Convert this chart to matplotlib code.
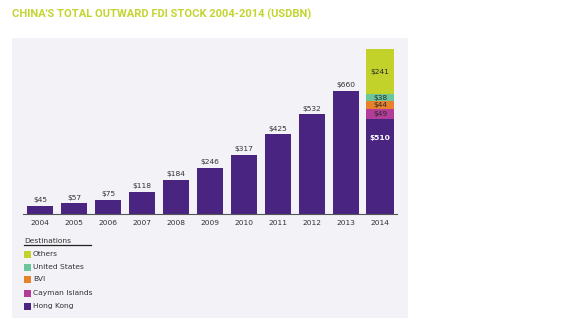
import matplotlib
matplotlib.use("Agg")
import matplotlib.pyplot as plt
from matplotlib.patches import Rectangle
from matplotlib.lines import Line2D

years = ["2004", "2005", "2006", "2007", "2008", "2009", "2010", "2011", "2012", "2013", "2014"]
totals = [45, 57, 75, 118, 184, 246, 317, 425, 532, 660]

# 2014 breakdown by destination (bottom to top)
dest_names = ["Hong Kong", "Cayman Islands", "BVI", "United States", "Others"]
dest_values = [510, 49, 44, 38, 241]
dest_colors = ["#4a2481", "#b23d98", "#e8812b", "#6cc59b", "#c3d22b"]
dest_text = ["white", "#2a2a2a", "#2a2a2a", "#2a2a2a", "#2a2a2a"]

title = "CHINA'S TOTAL OUTWARD FDI STOCK 2004-2014 (USDBN)"
title_color = "#c4d42f"
panel_color = "#f3f2f7"
bar_color = dest_colors[0]

W, H = 568, 326
fig = plt.figure(figsize=(W / 100, H / 100), dpi=100)
fig.patch.set_facecolor("white")

def fx(px):
    return px / W

def fy(py):
    return 1 - py / H

# background panel
fig.add_artist(Rectangle((fx(12), fy(318)), fx(408) - fx(12), fy(38) - fy(318),
                         transform=fig.transFigure, facecolor=panel_color,
                         edgecolor="none", zorder=0))

fig.text(fx(12), fy(14), title, color=title_color, fontsize=8.0,
         fontweight="bold", family=["Roboto", "DejaVu Sans"],
         ha="left", va="center")

ax = fig.add_axes([fx(23), fy(214), fx(397) - fx(23), fy(40) - fy(214)])
ax.set_facecolor("none")
ax.set_xlim(-0.5, len(years) - 0.5)
ax.set_ylim(0, 930)

label_kw = dict(fontsize=5.4, color="#333333", ha="center")

xs = list(range(len(totals)))
ax.bar(xs, totals, width=0.74, color=bar_color, zorder=2)
for x, v in zip(xs, totals):
    ax.text(x, v + 14, f"${v}", va="bottom", **label_kw)

# stacked 2014 bar
x14 = len(years) - 1
bottom = 0
for i, (v, c, tc) in enumerate(zip(dest_values, dest_colors, dest_text)):
    ax.bar(x14, v, bottom=bottom, width=0.85, color=c, zorder=2)
    ypos = bottom + (0.8 * v if i == 0 else v / 2)
    ax.text(x14, ypos, f"${v}", va="center", fontsize=5.4, color=tc,
            ha="center", fontweight="bold" if i == 0 else "normal")
    bottom += v

ax.set_xticks(range(len(years)))
ax.set_xticklabels(years, fontsize=5.4, color="#333333")
ax.tick_params(axis="x", length=0, pad=4)
ax.set_yticks([])
for s in ["top", "right", "left"]:
    ax.spines[s].set_visible(False)
ax.spines["bottom"].set_color("#555555")
ax.spines["bottom"].set_linewidth(0.8)

# legend
fig.text(fx(24), fy(241), "Destinations", fontsize=5.4, color="#333333",
         ha="left", va="center")
fig.add_artist(Line2D([fx(24), fx(91)], [fy(245), fy(245)],
                      transform=fig.transFigure, color="#222222", lw=0.9))
leg_y = [306, 293, 279, 267, 254]
for name, c, y in zip(dest_names, dest_colors, leg_y):
    fig.add_artist(Rectangle((fx(24), fy(y + 3.5)), fx(7), fy(0) - fy(7),
                             transform=fig.transFigure, facecolor=c,
                             edgecolor="none"))
    fig.text(fx(33), fy(y), name, fontsize=5.4, color="#333333",
             ha="left", va="center")

fig.savefig("out.png", dpi=100, facecolor="white")
